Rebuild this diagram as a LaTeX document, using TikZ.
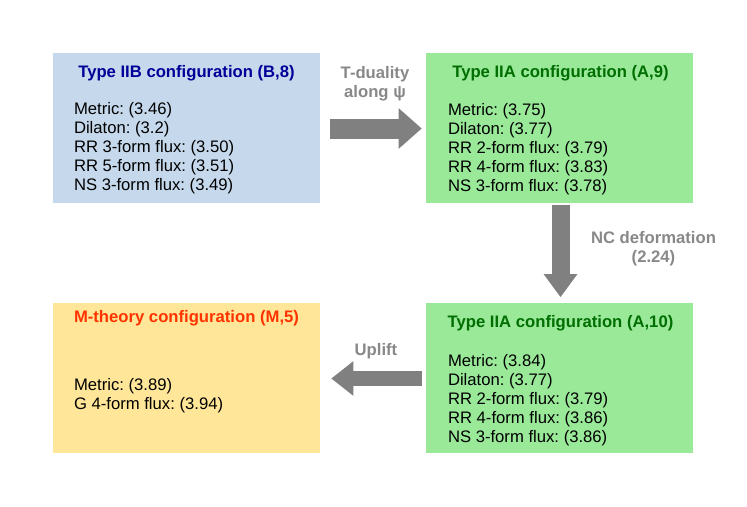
\documentclass[tikz,border=0pt]{standalone}
\usepackage{fontspec}
\setmainfont{Liberation Sans}
\usetikzlibrary{arrows.meta,calc}
\frenchspacing

\definecolor{cfgblue}{RGB}{198,217,236}
\definecolor{cfggreen}{RGB}{153,233,153}
\definecolor{cfgyellow}{RGB}{255,230,153}
\definecolor{titleblue}{RGB}{0,0,153}
\definecolor{titlegreen}{RGB}{0,110,0}
\definecolor{titlered}{RGB}{255,51,0}
\definecolor{arrowgray}{RGB}{128,128,128}
\definecolor{labelgray}{RGB}{136,136,136}

\begin{document}
\begin{tikzpicture}[x=0.75pt, y=-0.75pt,
  font=\fontsize{12.5pt}{14.25pt}\selectfont,
  cfgbox/.style={rectangle, inner sep=0pt, minimum width=200.25pt, minimum height=112.5pt},
  cfgtitle/.style={font=\fontsize{12.5pt}{14.25pt}\selectfont\bfseries, inner sep=0pt, anchor=base},
  cfgbody/.style={align=left, inner sep=0pt, anchor=north west},
  fatarrow/.style={draw=arrowgray, fill=arrowgray},
  steplabel/.style={text=labelgray, font=\fontsize{12.5pt}{14.25pt}\selectfont\bfseries, align=center, inner sep=0pt}]
  \useasboundingbox (0,0) rectangle (747,507);

  \node[cfgbox, fill=cfgblue] (b8) at (186.5,128) {};
  \node[cfgbox, fill=cfggreen] (a9) at (559.5,128) {};
  \node[cfgbox, fill=cfgyellow] (m5) at (186.5,378) {};
  \node[cfgbox, fill=cfggreen] (a10) at (559.5,378) {};

  \node[cfgtitle, text=titleblue] (b8title) at ($(b8.north)+(0,24.5)$) {Type IIB configuration (B,8)};
  \node[cfgtitle, text=titlegreen] (a9title) at ($(a9.north)+(1,24.5)$) {Type IIA configuration (A,9)};
  \node[cfgtitle, text=titlered] (m5title) at ($(m5.north)+(0,20)$) {M-theory configuration (M,5)};
  \node[cfgtitle, text=titlegreen] (a10title) at ($(a10.north)+(1,25)$) {Type IIA configuration (A,10)};

  \node[cfgbody] (b8body) at ($(b8.north west)+(21,49)$) {Metric: (3.46)\\Dilaton: (3.2)\\RR 3-form flux: (3.50)\\RR 5-form flux: (3.51)\\NS 3-form flux: (3.49)};
  \node[cfgbody] (a9body) at ($(a9.north west)+(22,50)$) {Metric: (3.75)\\Dilaton: (3.77)\\RR 2-form flux: (3.79)\\RR 4-form flux: (3.83)\\NS 3-form flux: (3.78)};
  \node[cfgbody] (m5body) at ($(m5.north west)+(21,75.6)$) {Metric: (3.89)\\G 4-form flux: (3.94)};
  \node[cfgbody] (a10body) at ($(a10.north west)+(22,51.6)$) {Metric: (3.84)\\Dilaton: (3.77)\\RR 2-form flux: (3.79)\\RR 4-form flux: (3.86)\\NS 3-form flux: (3.86)};

  \draw[fatarrow, line width=15pt, -{Triangle[length=17.25pt, width=29.25pt]}] ($(b8.east)+(10,0.5)$) -- ($(a9.west)+(-4,0.5)$);
  \draw[fatarrow, line width=13.5pt, -{Triangle[length=17.25pt, width=24pt]}] ($(a9.south)+(1,2)$) -- ($(a10.north)+(1,-5.5)$);
  \draw[fatarrow, line width=11.6pt, -{Triangle[length=16.5pt, width=24.75pt]}] ($(a10.west)+(-4,0.5)$) -- ($(m5.east)+(11,0.5)$);

  \node[steplabel, anchor=north] (tdual) at (375,66) {T-duality\\along ψ};
  \node[steplabel, anchor=north] (ncdef) at (653.5,231.5) {NC deformation\\(2.24)};
  \node[steplabel, anchor=base] (uplift) at (376,355.7) {Uplift};
\end{tikzpicture}
\end{document}
